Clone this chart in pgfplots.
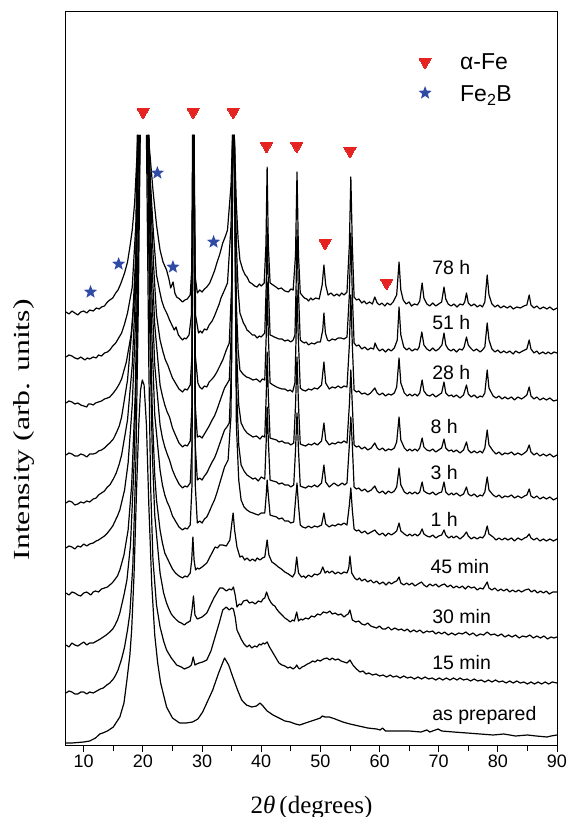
\documentclass[border=0pt]{standalone}
\usepackage{fontspec}
\usepackage{pgfplots}
\pgfplotsset{compat=1.18}
\setmainfont{Liberation Sans}
\newfontfamily\seriffont{Liberation Serif}
\newfontfamily\ylabfont[FakeStretch=1.38]{Liberation Serif}
\definecolor{fered}{RGB}{229,36,33}
\definecolor{feblue}{RGB}{47,75,165}
\newcommand\ticksize{\fontsize{18bp}{20bp}\selectfont}
\newcommand\labsize{\fontsize{19.5bp}{22bp}\selectfont}
\newcommand\legsize{\fontsize{23bp}{26bp}\selectfont}

% filled five-pointed star
\pgfdeclareplotmark{fstar}{%
  \pgfpathmoveto{\pgfqpointpolar{90}{\pgfplotmarksize}}%
  \pgfpathlineto{\pgfqpointpolar{126}{0.42\pgfplotmarksize}}%
  \pgfpathlineto{\pgfqpointpolar{162}{\pgfplotmarksize}}%
  \pgfpathlineto{\pgfqpointpolar{198}{0.42\pgfplotmarksize}}%
  \pgfpathlineto{\pgfqpointpolar{234}{\pgfplotmarksize}}%
  \pgfpathlineto{\pgfqpointpolar{270}{0.42\pgfplotmarksize}}%
  \pgfpathlineto{\pgfqpointpolar{306}{\pgfplotmarksize}}%
  \pgfpathlineto{\pgfqpointpolar{342}{0.42\pgfplotmarksize}}%
  \pgfpathlineto{\pgfqpointpolar{18}{\pgfplotmarksize}}%
  \pgfpathlineto{\pgfqpointpolar{54}{0.42\pgfplotmarksize}}%
  \pgfpathclose
  \pgfusepathqfill
}

% diffractograms: intensities above the cut-off (611) are left out,
% so the strongest reflections end at the top of the panel
\pgfplotsset{xrd/.style={black, mark=none, solid, line width=1.2bp, line join=round,
  restrict y to domain=-10:611, unbounded coords=jump}}

\begin{document}
\begin{tikzpicture}
\begin{axis}[
  at={(0,0)}, anchor=south west,
  scale only axis, width=491bp, height=733bp,
  xmin=7, xmax=90, ymin=0, ymax=733,
  xtick={10,20,...,90}, minor xtick={15,25,...,85},
  xtick pos=bottom, ytick=\empty,
  tick align=outside,
  major tick length=7bp, minor tick length=6bp,
  axis line style={line width=1bp},
  every tick/.style={line width=0.9bp, black},
  /pgf/number format/assume math mode=true,
  xticklabel style={font=\ticksize, inner sep=0pt, anchor=north, yshift=-3bp},
  xlabel={\seriffont 2\textit{θ}\,(degrees)},
  xlabel style={font=\fontsize{25bp}{28bp}\selectfont, at={(axis description cs:0.5,0)}, anchor=base, yshift=-68bp},
  ylabel={\ylabfont Intensity (arb. units)},
  ylabel style={font=\fontsize{23bp}{26bp}\selectfont, at={(axis description cs:-0.0855,0.43)}, anchor=center},
]

% as prepared
\addplot[xrd] coordinates {(7,2)(8,2)(9,2.5)(10,3)(11,4)(12,7)(12.7,11)(13.2,12)(14,14)(15,18)(16.1,28)(16.8,42)(17.3,65)(17.8,90)(18.1,115)(18.5,170)(18.9,250)(19.3,320)(19.6,355)(19.9,365)(20.2,360)(20.6,320)(21.0,240)(21.5,160)(22.0,110)(22.5,82)(23.0,62)(24.0,38)(25.0,27)(26.2,22)(27.3,22)(28.4,23)(29.3,26)(30.1,33)(30.8,42)(31.8,55)(32.8,72)(33.8,87)(34.5,80)(35.2,68)(36.0,55)(36.7,45)(37.5,40)(38.4,38)(39.2,39)(39.8,42)(40.3,39)(41.0,34)(42.0,30)(43.0,27)(44.0,24)(44.9,23)(45.8,21)(46.5,20)(47.5,22)(49,25)(50,27)(50.3,29)(50.8,28)(51.5,28)(52.5,26)(53.8,23)(55,21)(56.5,19)(58,17)(59.5,16)(60.1,15)(60.5,17)(61,14)(63,14)(65,14)(67,13)(68,15)(68.5,13)(69.9,16)(70.5,14)(72.5,13)(74.8,12)(77,11)(79.2,10)(81,11)(83,9)(85,10)(86.5,9)(88.3,8)(89,9)(90,10)};

% 15 min
\addplot[xrd] coordinates {(7,52)(7.5,54)(8,53)(8.5,51)(9,51)(9.5,53)(10,53)(10.5,51)(11,53)(11.6,52)(12.2,54)(12.8,56)(13.3,57)(13.9,60)(14.4,62)(15.0,66)(15.4,70)(15.8,75)(16.4,86)(16.9,98)(17.4,115)(17.8,132)(18.3,180)(18.8,280)(19.2,430)(19.55,610)(20.0,900)(20.6,610)(21.0,380)(21.3,260)(21.7,185)(22.3,140)(22.9,118)(23.5,104)(24.0,95)(24.8,87)(25.2,84)(25.7,80)(26.1,79)(26.5,78)(27.0,76)(27.4,77)(27.8,78)(28.2,80)(28.5,88)(28.8,80)(29.1,81)(29.5,82)(30.1,83)(30.8,85)(31.5,94)(32.2,108)(32.9,122)(33.5,135)(34.1,138)(34.6,135)(35.0,137)(35.3,136)(35.6,128)(35.9,115)(36.3,110)(36.6,106)(37.1,101)(37.6,98)(38.0,100)(38.4,97)(38.9,99)(39.3,98)(39.7,101)(40.0,100)(40.3,102)(40.6,101)(41.0,103)(41.4,98)(41.7,95)(42.0,92)(42.3,89)(42.6,86)(43.0,82)(43.5,80)(44.0,79)(44.5,77)(44.9,78)(45.4,76)(45.8,78)(46.0,80)(46.3,77)(46.5,76)(46.9,78)(47.3,79)(47.8,81)(48.2,82)(48.7,84)(49.1,83)(49.5,85)(50.0,84)(50.5,86)(51.1,87)(51.6,85)(52.0,87)(52.5,85)(53.0,86)(53.5,84)(54.0,83)(54.5,82)(55.0,85)(55.5,80)(56.1,76)(56.7,73)(57.2,74)(57.7,71)(58.2,72)(58.8,70)(59.4,71)(60,69)(60.6,70)(61.2,68)(61.8,70)(62.3,68)(62.9,69)(63.5,67)(64.1,69)(64.7,67)(65.3,68)(65.9,66)(66.5,68)(67.1,66)(67.7,68)(68.3,66)(68.9,67)(69.5,65)(70.1,67)(70.7,65)(71.3,67)(71.9,65)(72.5,67)(73.1,65)(73.6,67)(74.2,65)(74.8,66)(75.4,64)(76,66)(76.6,64)(77.2,65)(77.8,63)(78.4,65)(79,63)(79.6,65)(80.2,63)(80.8,64)(81.4,62)(82,64)(82.6,62)(83.2,64)(83.8,62)(84.4,63)(85,61)(85.6,63)(86.2,61)(86.8,63)(87.4,61)(88,63)(88.6,61)(89.2,63)(90,62)};

% 30 min
\addplot[xrd] coordinates {(7,100)(7.5,98)(8,102)(8.5,100)(9,99)(9.5,101)(10,103)(10.5,100)(11,102)(11.6,102)(12.2,104)(12.8,106)(13.3,108)(13.8,110)(14.4,113)(14.9,116)(15.3,120)(15.7,125)(16.1,132)(16.8,150)(17.3,165)(17.9,200)(18.5,280)(19.0,400)(19.5,610)(20.0,900)(20.75,610)(21.2,400)(21.6,290)(22.0,230)(22.9,172)(23.5,152)(24.0,142)(24.4,136)(24.8,131)(25.2,128)(25.7,125)(26.1,123)(26.5,122)(27.0,120)(27.4,122)(28.0,124)(28.3,135)(28.55,149)(28.8,130)(29.2,126)(29.6,127)(30.0,128)(30.4,130)(30.8,132)(31.2,137)(31.6,142)(32.0,147)(32.5,152)(33.0,157)(33.5,157)(34.1,154)(34.6,156)(35.0,155)(35.3,158)(35.6,150)(35.9,138)(36.3,141)(36.6,140)(37.0,144)(37.6,145)(38.0,142)(38.5,143)(39.0,141)(39.5,144)(40.0,143)(40.3,146)(40.6,147)(40.9,153)(41.3,146)(41.7,142)(42.0,140)(42.3,139)(42.6,136)(43.0,133)(43.5,130)(44.0,127)(44.5,125)(44.9,123)(45.3,125)(45.6,124)(46.0,133)(46.3,124)(46.7,126)(47.0,125)(47.5,127)(48.0,126)(48.5,129)(49.0,128)(49.5,131)(50.0,130)(50.5,133)(51.1,132)(51.6,134)(52.0,131)(52.5,132)(53.0,130)(53.5,131)(54.0,128)(54.4,130)(54.7,131)(55.0,135)(55.4,125)(56,123)(56.5,124)(57,121)(57.5,120)(58,122)(58.5,119)(59,118)(59.5,117)(60,119)(60.5,116)(61,116)(61.5,118)(62,115)(62.6,117)(63.2,115)(63.7,116)(64.2,114)(64.7,116)(65.2,113)(65.8,115)(66.3,113)(66.8,115)(67.4,112)(68,114)(68.4,113)(69,114)(69.5,111)(70,113)(70.5,111)(71,113)(71.6,110)(72.2,112)(72.8,110)(73.4,112)(74,111)(74.6,113)(75.2,110)(75.8,112)(76.4,109)(77,111)(77.6,110)(78.2,113)(78.8,110)(79.4,111)(80,109)(80.6,111)(81.2,108)(81.8,110)(82.4,108)(83,110)(83.6,107)(84.2,109)(84.8,108)(85.4,110)(86,107)(86.6,109)(87.2,107)(87.8,109)(88.4,106)(89,108)(89.5,107)(90,108)};

% 45 min
\addplot[xrd] coordinates {(7,152)(7.5,150)(8,153)(8.5,152)(9,150)(9.5,149)(10,152)(10.5,153)(11.2,150)(11.6,153)(12,154)(12.5,153)(13,156)(13.5,157)(14,158)(14.4,160)(14.8,162)(15.2,165)(15.7,169)(16.1,175)(16.8,190)(17.5,215)(18.1,260)(18.7,350)(19.1,470)(19.45,610)(20.0,900)(20.8,610)(21.2,440)(21.6,330)(22.0,270)(22.3,245)(22.9,215)(23.3,202)(23.7,192)(24.1,187)(24.5,182)(25.0,176)(25.5,172)(26.1,169)(26.7,167)(27.1,169)(27.5,168)(28.0,172)(28.25,185)(28.45,208)(28.65,185)(28.9,175)(29.2,177)(29.5,176)(30.0,178)(30.4,180)(30.8,182)(31.5,190)(32.2,198)(32.6,197)(33.0,200)(33.5,200)(34.1,199)(34.7,205)(35.0,220)(35.25,232)(35.5,215)(35.9,198)(36.4,188)(36.8,189)(37.2,185)(37.6,187)(38.1,184)(38.5,186)(39.0,184)(39.3,187)(39.8,185)(40.2,187)(40.6,188)(41.0,205)(41.3,190)(41.8,183)(42.3,181)(42.9,178)(43.4,176)(44.0,173)(44.6,171)(45.3,168)(45.7,172)(46.0,188)(46.3,172)(46.8,168)(47.2,169)(47.5,167)(48.0,170)(48.5,168)(49.0,171)(49.5,170)(50.0,172)(50.4,178)(50.8,172)(51.2,174)(51.5,172)(52.0,174)(52.5,171)(53.0,173)(53.5,171)(54.0,173)(54.5,172)(54.8,177)(55.0,189)(55.3,172)(55.8,167)(56.2,165)(56.6,167)(57,164)(57.5,166)(58,163)(58.5,165)(59,162)(59.5,164)(60.0,161)(60.6,163)(61.1,160)(61.6,163)(62,161)(62.5,163)(62.9,164)(63.3,168)(63.6,162)(64.1,160)(64.6,162)(65,160)(65.5,162)(66.0,159)(66.5,161)(67.1,163)(67.5,160)(68.0,158)(68.5,161)(69,159)(69.5,161)(70,158)(70.5,160)(71,161)(71.5,158)(72,160)(72.5,157)(73,159)(73.5,157)(74,159)(74.5,156)(75,159)(75.5,157)(76,158)(76.5,155)(77,157)(77.5,156)(78.2,163)(78.5,157)(79,155)(79.5,157)(80,154)(80.5,156)(81,154)(81.5,156)(82,153)(82.5,155)(83,153)(83.5,155)(84,153)(84.6,155)(85.2,156)(85.7,153)(86.2,155)(86.7,152)(87.2,154)(87.7,152)(88.2,154)(88.7,151)(89.3,153)(90,153)};

% 1 h
\addplot[xrd] coordinates {(7,197)(7.5,199)(8,198)(8.5,196)(9,199)(9.5,198)(10,201)(10.5,199)(11,201)(11.6,202)(12.1,204)(12.5,205)(13,207)(13.5,209)(14,212)(14.4,215)(14.9,219)(15.3,224)(15.7,229)(16.1,235)(16.9,255)(17.5,282)(18.2,340)(18.8,430)(19.3,610)(20.0,900)(20.9,610)(21.4,430)(22.0,330)(22.9,275)(23.3,260)(23.7,250)(24.1,243)(24.5,238)(25.0,229)(25.5,224)(26.1,218)(26.7,215)(27.1,217)(27.5,216)(28.0,220)(28.3,260)(28.45,610)(28.55,900)(28.65,610)(28.85,260)(29.2,222)(29.6,224)(30.0,222)(30.4,226)(30.8,228)(31.2,233)(31.7,240)(32.1,245)(32.5,252)(33.2,266)(33.8,278)(34.4,285)(34.9,330)(35.2,610)(35.3,900)(35.45,610)(35.8,320)(36.2,265)(36.6,245)(37.1,238)(37.6,235)(38.1,233)(38.6,232)(39.0,231)(39.5,230)(40.0,232)(40.6,232)(40.85,250)(41.0,265)(41.2,250)(41.5,230)(42.0,229)(42.6,228)(43.0,226)(43.5,227)(44.0,224)(44.6,224)(45.0,222)(45.5,223)(45.8,245)(46.05,262)(46.3,240)(46.6,220)(47.0,218)(47.5,217)(48.0,219)(48.5,217)(49.0,219)(49.5,218)(50.2,220)(50.6,232)(50.9,221)(51.5,218)(52.0,220)(52.5,219)(53.0,221)(53.5,220)(54.0,222)(54.5,220)(54.9,240)(55.15,257)(55.4,235)(55.7,216)(56.1,214)(56.5,215)(57.0,212)(57.5,214)(58,211)(58.6,213)(59.2,215)(59.6,212)(60.0,210)(60.5,212)(61.0,209)(61.5,212)(62,210)(62.5,212)(62.9,214)(63.3,222)(63.6,214)(64.2,211)(64.7,209)(65.1,211)(65.5,209)(66.0,211)(66.4,209)(66.8,211)(67.2,216)(67.5,211)(68.0,209)(68.5,208)(69.0,210)(69.5,207)(70,209)(70.5,210)(70.9,215)(71.2,210)(71.7,207)(72.2,209)(72.5,207)(73.0,209)(73.6,206)(74.2,209)(74.7,213)(75.0,209)(75.5,206)(76.0,208)(76.5,206)(77.0,208)(77.4,207)(77.8,210)(78.2,219)(78.5,211)(79.2,208)(79.7,205)(80.2,207)(80.7,205)(81.2,207)(81.7,205)(82.3,207)(82.8,204)(83.4,207)(84.0,205)(84.5,207)(84.9,208)(85.3,211)(85.6,207)(86.1,205)(86.6,207)(87.1,204)(87.7,206)(88.2,204)(88.8,206)(89.4,204)(90,206)};

% 3 h
\addplot[xrd] coordinates {(7,242)(7.5,244)(8,243)(8.5,240)(9,241)(9.5,243)(10,242)(10.5,244)(11,243)(11.6,246)(12.1,247)(12.5,250)(13,252)(13.5,254)(14,258)(14.4,260)(15,266)(15.5,272)(16,281)(16.4,290)(17.4,325)(18.2,380)(18.8,460)(19.2,610)(20.0,900)(21.0,610)(21.4,470)(22.0,380)(22.9,320)(23.3,307)(23.7,298)(24.1,291)(24.5,285)(25.0,275)(25.5,268)(26.1,261)(26.7,257)(27.1,259)(27.5,258)(28.0,262)(28.3,300)(28.45,610)(28.55,900)(28.65,610)(28.85,300)(29.2,265)(29.6,267)(30.0,265)(30.4,269)(30.8,272)(31.2,277)(31.7,283)(32.1,287)(32.5,293)(33.2,305)(33.8,315)(34.2,318)(34.6,322)(35.0,380)(35.2,610)(35.3,900)(35.45,610)(35.8,360)(36.2,300)(36.6,280)(37.1,274)(37.6,270)(38.1,268)(38.6,266)(39.0,267)(39.5,264)(40.0,268)(40.6,266)(40.85,305)(41.0,338)(41.2,305)(41.5,265)(42.0,264)(42.6,263)(43.0,261)(43.5,262)(44.0,260)(44.6,260)(45.0,258)(45.5,260)(45.8,295)(46.05,332)(46.3,295)(46.6,259)(47.0,258)(47.5,257)(48.0,259)(48.5,258)(49.0,260)(49.5,258)(50.2,262)(50.6,280)(50.9,263)(51.5,258)(52.3,262)(53,259)(53.7,262)(54.1,260)(54.5,262)(54.9,300)(55.15,328)(55.4,300)(55.7,258)(56.1,256)(56.5,257)(57.0,254)(57.5,256)(58,253)(58.6,255)(59.2,259)(59.6,254)(60.0,252)(60.5,254)(61.0,251)(61.5,254)(62,252)(62.5,254)(62.9,258)(63.3,277)(63.6,260)(64.2,253)(64.7,251)(65.1,253)(65.5,251)(66.0,253)(66.4,251)(66.8,253)(67.2,263)(67.5,254)(68.0,252)(68.5,251)(69.0,253)(69.5,250)(70,252)(70.5,253)(70.9,263)(71.2,253)(71.7,250)(72.2,252)(72.5,250)(73.0,252)(73.6,249)(74.2,251)(74.7,258)(75.0,251)(75.5,249)(76.0,251)(76.5,248)(77.0,250)(77.4,249)(77.8,253)(78.2,268)(78.5,255)(79.2,250)(79.7,248)(80.2,250)(80.7,247)(81.2,249)(81.7,248)(82.3,250)(82.8,247)(83.4,249)(84.0,247)(84.5,249)(84.9,250)(85.3,256)(85.6,249)(86.1,247)(86.6,249)(87.1,246)(87.7,248)(88.2,246)(88.8,248)(89.4,245)(90,247)};

% 8 h
\addplot[xrd] coordinates {(7,290)(7.5,292)(8,291)(8.5,289)(9,289)(9.5,291)(10,290)(10.5,288)(11,291)(11.6,291)(12.1,292)(12.5,294)(13,295)(13.5,297)(14,300)(14.4,302)(15,306)(15.5,312)(16,319)(16.4,328)(17.4,365)(18.2,420)(18.8,490)(19.15,610)(20.0,900)(21.0,610)(21.4,500)(22.0,420)(22.9,360)(23.3,349)(23.7,340)(24.1,333)(24.5,328)(25.0,317)(25.5,310)(26.1,302)(26.7,298)(27.1,300)(27.5,299)(28.0,304)(28.3,340)(28.45,610)(28.55,900)(28.65,610)(28.85,340)(29.2,308)(29.6,309)(30.0,307)(30.4,311)(30.8,315)(31.2,319)(31.7,325)(32.1,329)(32.5,335)(33.2,347)(33.8,357)(34.2,361)(34.6,365)(35.0,420)(35.2,610)(35.3,900)(35.45,610)(35.8,400)(36.2,340)(36.6,322)(37.1,316)(37.6,312)(38.1,310)(38.6,308)(39.2,309)(39.8,306)(40.2,309)(40.6,308)(40.85,350)(41.0,393)(41.2,350)(41.5,307)(42.0,306)(42.6,305)(43.0,303)(43.5,304)(44.0,302)(44.6,302)(45.0,300)(45.5,302)(45.8,340)(46.05,388)(46.3,340)(46.6,301)(47.0,300)(47.5,299)(48.0,301)(48.5,300)(49.0,302)(49.5,300)(50.2,304)(50.6,322)(50.9,305)(51.5,300)(52.0,302)(52.5,301)(53.0,303)(53.5,302)(54.0,304)(54.5,302)(54.9,340)(55.15,375)(55.4,340)(55.7,300)(56.1,298)(56.5,299)(57.0,296)(57.5,298)(58,295)(58.6,297)(59.2,302)(59.6,297)(60.0,295)(60.5,297)(61.0,294)(61.5,296)(62,295)(62.5,297)(62.9,303)(63.3,328)(63.6,305)(64.2,297)(64.7,294)(65.1,296)(65.5,294)(66.0,296)(66.4,294)(66.8,297)(67.2,307)(67.5,298)(68.0,295)(68.5,294)(69.0,296)(69.5,293)(70,295)(70.5,297)(70.9,306)(71.2,297)(71.7,294)(72.2,295)(72.5,293)(73.0,295)(73.6,292)(74.2,295)(74.7,303)(75.0,295)(75.5,292)(76.0,294)(76.5,292)(77.0,294)(77.4,292)(77.8,297)(78.2,315)(78.5,300)(79.2,294)(79.7,291)(80.2,293)(80.7,290)(81.2,292)(81.7,291)(82.3,293)(82.8,290)(83.4,292)(84.0,290)(84.5,292)(84.9,294)(85.3,300)(85.6,293)(86.1,290)(86.6,292)(87.1,289)(87.7,291)(88.2,289)(88.8,291)(89.4,288)(90,290)};

% 28 h
\addplot[xrd] coordinates {(7,342)(7.5,344)(8,343)(8.5,341)(9,342)(9.5,340)(10,339)(10.5,338)(10.8,341)(11.2,341)(11.6,340)(12,342)(12.5,343)(13,344)(13.5,346)(14,347)(14.4,348)(15,352)(15.5,356)(16,361)(16.4,366)(17.2,383)(18.0,410)(18.6,450)(19.0,530)(19.1,610)(20.0,900)(21.0,610)(21.3,550)(21.8,480)(22.3,430)(22.9,405)(23.4,393)(23.8,385)(24.2,380)(24.5,375)(25.0,367)(25.5,362)(26.1,356)(26.7,353)(27.1,356)(27.5,355)(28.0,360)(28.3,390)(28.45,610)(28.55,900)(28.65,610)(28.85,390)(29.3,362)(29.6,358)(30.0,356)(30.4,359)(30.8,358)(31.2,363)(31.7,366)(32.1,369)(32.5,373)(33.0,379)(33.5,385)(34.1,395)(34.6,402)(35.0,460)(35.2,610)(35.3,900)(35.45,610)(35.8,440)(36.1,395)(36.4,375)(36.9,371)(37.5,368)(38.0,367)(38.6,365)(39.2,366)(39.8,363)(40.2,366)(40.6,365)(40.85,410)(41.0,463)(41.2,410)(41.5,362)(42.0,360)(42.6,358)(43.0,357)(43.5,356)(44.0,356)(44.5,354)(44.9,355)(45.3,353)(45.7,362)(45.9,410)(46.05,455)(46.25,410)(46.6,357)(47.0,355)(47.5,354)(48.0,356)(48.5,355)(49.0,357)(49.5,356)(50.2,360)(50.6,383)(50.9,362)(51.5,356)(52.0,358)(52.5,357)(53.0,359)(53.5,357)(54.0,359)(54.5,358)(54.9,400)(55.15,450)(55.4,400)(55.7,355)(56.1,353)(56.5,354)(57.0,351)(57.5,352)(58,350)(58.5,352)(59.2,357)(59.6,352)(60.0,350)(60.5,352)(61.0,349)(61.5,351)(62,350)(62.5,352)(62.9,358)(63.3,387)(63.6,362)(64.2,352)(64.7,349)(65.1,351)(65.5,349)(66.0,351)(66.4,349)(66.8,352)(67.2,365)(67.5,354)(68.0,350)(68.5,349)(69.0,351)(69.5,348)(70,350)(70.5,352)(70.9,363)(71.2,352)(71.7,349)(72.2,350)(72.5,348)(73.0,350)(73.6,347)(74.2,350)(74.7,360)(75.0,351)(75.5,348)(76.0,350)(76.5,347)(77.0,349)(77.4,348)(77.8,352)(78.2,375)(78.5,357)(79.2,349)(79.7,347)(80.2,349)(80.7,346)(81.2,348)(81.7,346)(82.3,348)(82.8,345)(83.4,348)(84.0,346)(84.5,348)(84.9,350)(85.3,358)(85.6,349)(86.1,346)(86.6,348)(87.1,345)(87.7,347)(88.2,345)(88.8,347)(89.4,344)(90,345)};

% 51 h
\addplot[xrd] coordinates {(7,388)(7.5,390)(8,389)(8.5,387)(9,386)(9.5,388)(10.2,385)(10.6,387)(11,386)(11.6,388)(12.1,387)(12.5,390)(13,389)(13.5,392)(14,393)(14.4,395)(14.9,399)(15.4,402)(15.9,407)(16.4,412)(16.9,421)(17.4,432)(18.2,458)(18.8,520)(19.1,610)(20.0,900)(20.9,610)(21.2,570)(21.8,510)(22.3,470)(22.9,452)(23.2,444)(23.6,437)(24.1,431)(24.5,425)(24.9,420)(25.3,415)(25.6,418)(26.0,410)(26.4,407)(26.7,405)(27.0,407)(27.3,406)(27.8,410)(28.2,430)(28.4,610)(28.55,900)(28.65,610)(28.9,430)(29.4,412)(29.7,414)(30.0,412)(30.4,416)(30.8,415)(31.2,420)(31.7,424)(32.1,429)(32.5,435)(32.9,441)(33.2,447)(33.8,455)(34.3,462)(34.9,520)(35.15,610)(35.3,900)(35.45,610)(35.8,500)(36.1,455)(36.4,432)(37.0,422)(37.3,419)(37.6,415)(38.0,413)(38.5,410)(38.9,410)(39.3,407)(39.7,409)(40.0,408)(40.3,410)(40.6,412)(40.85,460)(41.0,518)(41.2,460)(41.5,410)(41.9,409)(42.2,408)(42.6,407)(43.0,406)(43.5,406)(44.0,404)(44.5,405)(45.0,403)(45.4,405)(45.7,410)(45.9,460)(46.05,515)(46.25,460)(46.6,405)(47.0,403)(47.3,402)(47.6,403)(48.0,400)(48.5,402)(49.0,401)(49.5,403)(50.0,403)(50.4,415)(50.6,432)(50.85,412)(51.2,405)(51.5,404)(52.0,406)(52.5,405)(53.0,407)(53.5,407)(54.0,406)(54.5,408)(54.9,450)(55.15,512)(55.4,450)(55.7,402)(56.1,399)(56.5,400)(57.0,396)(57.5,398)(58.0,395)(58.5,397)(59.0,396)(59.25,402)(59.6,397)(60.0,394)(60.5,396)(61.0,393)(61.5,396)(62.0,394)(62.5,397)(63.0,405)(63.3,438)(63.6,410)(64.1,398)(64.6,395)(65.0,397)(65.5,394)(66.0,396)(66.4,395)(66.7,398)(67.15,413)(67.5,400)(68.0,396)(68.5,394)(69.0,397)(69.5,394)(70.0,396)(70.55,400)(70.9,412)(71.2,400)(71.6,396)(72.1,394)(72.5,396)(73.0,393)(73.5,396)(74.0,395)(74.3,398)(74.7,408)(75.0,400)(75.4,397)(75.9,394)(76.4,396)(77.0,393)(77.4,395)(77.8,398)(78.2,422)(78.5,405)(79.0,396)(79.5,393)(80.0,395)(80.5,392)(81.0,394)(81.5,392)(82.0,394)(82.6,391)(83.0,394)(83.6,392)(84.2,394)(84.9,396)(85.3,405)(85.6,396)(86.1,392)(86.6,394)(87.0,391)(87.6,393)(88.1,391)(88.5,393)(89.0,391)(89.5,393)(90,392)};

% 78 h
\addplot[xrd] coordinates {(7,433)(7.5,431)(8,434)(8.5,432)(9,430)(9.5,433)(10,434)(10.5,432)(11,435)(11.6,434)(12.1,437)(12.6,436)(13,438)(13.5,439)(14,443)(14.4,445)(14.9,447)(15.4,452)(15.8,455)(16.3,462)(16.9,472)(17.4,483)(17.8,498)(18.2,515)(18.6,542)(19.0,590)(19.1,610)(20.0,900)(20.9,610)(21.2,590)(21.7,555)(22.3,520)(22.9,495)(23.4,483)(24.0,475)(24.4,466)(24.7,457)(25.1,463)(25.4,452)(25.7,448)(26.2,446)(26.7,443)(27.1,445)(27.5,446)(28.0,450)(28.3,480)(28.45,610)(28.55,900)(28.6,610)(28.8,470)(29.2,452)(29.6,455)(30.0,453)(30.4,456)(30.8,458)(31.3,462)(31.7,468)(32.1,474)(32.5,482)(33.0,491)(33.5,502)(33.9,508)(34.3,515)(34.9,560)(35.15,610)(35.3,900)(35.45,610)(35.8,540)(36.1,505)(36.4,485)(36.9,475)(37.3,470)(37.6,468)(38.0,463)(38.5,461)(38.9,459)(39.3,458)(39.7,461)(40.0,459)(40.5,462)(40.8,500)(41.0,578)(41.2,500)(41.5,462)(42.0,460)(42.5,458)(42.9,456)(43.4,457)(44.0,454)(44.6,453)(45.0,456)(45.4,455)(45.8,490)(46.05,573)(46.3,490)(46.6,452)(47.0,449)(47.3,447)(47.7,446)(48.0,444)(48.4,447)(48.7,445)(49.2,447)(49.8,446)(50.3,460)(50.6,480)(50.9,460)(51.3,450)(51.8,452)(52.3,449)(52.8,451)(53.2,449)(53.6,452)(54.0,450)(54.5,453)(54.9,500)(55.15,568)(55.4,500)(55.7,448)(56.1,445)(56.5,446)(57.0,442)(57.4,444)(57.8,441)(58.3,443)(58.8,441)(59.2,448)(59.6,442)(60.0,440)(60.4,442)(60.9,439)(61.3,442)(61.8,440)(62.3,443)(62.9,450)(63.3,483)(63.6,455)(64.0,445)(64.5,441)(65.0,443)(65.4,439)(65.9,441)(66.4,440)(66.8,444)(67.2,462)(67.5,447)(68.0,441)(68.5,439)(69.0,442)(69.5,439)(70.0,441)(70.5,443)(70.9,458)(71.2,446)(71.6,441)(72.1,439)(72.6,441)(73.1,438)(73.6,441)(74.1,440)(74.4,443)(74.7,452)(75.0,442)(75.5,439)(76.0,441)(76.5,438)(77.0,440)(77.4,438)(77.8,443)(78.2,470)(78.5,450)(79.0,441)(79.5,438)(80.0,440)(80.5,437)(81.0,439)(81.6,437)(82.1,439)(82.6,436)(83.2,438)(83.8,437)(84.4,439)(84.9,440)(85.3,450)(85.6,440)(86.1,437)(86.6,439)(87.1,436)(87.7,438)(88.3,436)(88.8,438)(89.4,435)(90,437)};

% alpha-Fe reflections
\addplot[only marks, mark=triangle*, mark size=7bp, color=fered,
  mark options={rotate=180, draw=fered, fill=fered, line width=0pt}]
  coordinates {(20.03,633)(28.49,633)(35.26,633)(40.9,599)(46.0,599)(55.0,594)(50.8,502)(61.2,462)};
% Fe2B reflections
\addplot[only marks, mark=fstar, mark size=7bp, color=feblue,
  mark options={fill=feblue}]
  coordinates {(11.15,453)(15.9,481)(22.45,572)(25.08,478)(31.95,503)};

% key
\addplot[only marks, mark=triangle*, mark size=7bp, color=fered,
  mark options={rotate=180, draw=fered, fill=fered, line width=0pt}]
  coordinates {(67.7,683)};
\addplot[only marks, mark=fstar, mark size=7bp, color=feblue,
  mark options={fill=feblue}]
  coordinates {(67.7,652)};
\node[anchor=base west, font=\legsize, inner sep=0pt] at (axis cs:73.6,675) {α-Fe};
\node[anchor=base west, font=\legsize, inner sep=0pt] at (axis cs:73.6,643) {Fe\textsubscript{2}B};

% sample labels
\begin{scope}[every node/.style={anchor=base west, font=\labsize, inner sep=0pt}]
\node at (axis cs:68.9,470) {78 h};
\node at (axis cs:68.9,415) {51 h};
\node at (axis cs:68.9,365) {28 h};
\node at (axis cs:68.6,311) {8 h};
\node at (axis cs:68.6,265) {3 h};
\node at (axis cs:68.6,218) {1 h};
\node at (axis cs:68.6,171) {45 min};
\node at (axis cs:68.9,121) {30 min};
\node at (axis cs:68.9,76) {15 min};
\node at (axis cs:68.9,25) {as prepared};
\end{scope}
\end{axis}
\pgfresetboundingbox
\useasboundingbox (-66bp,-72bp) rectangle (501bp,745bp);
\end{tikzpicture}
\end{document}
